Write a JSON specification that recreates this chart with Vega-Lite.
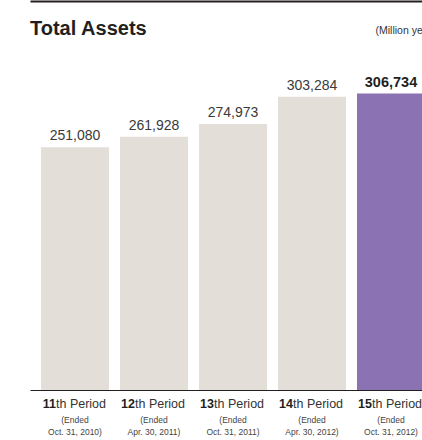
{
  "$schema": "https://vega.github.io/schema/vega-lite/v6.json",
  "width": 392,
  "height": 340,
  "autosize": {"type": "none"},
  "padding": {"left": 30, "top": 50, "right": 0, "bottom": 50},
  "background": "white",
  "config": {"view": {"stroke": null}, "font": "Liberation Sans"},
  "title": {"text": "Total Assets", "anchor": "start", "frame": "group", "fontSize": 20, "fontWeight": "bold", "color": "#231f20", "baseline": "alphabetic", "offset": -54, "font": "Liberation Sans"},
  "data": {"values": [
    {"period": "11th Period (Ended Oct. 31, 2010)", "assets": 251080, "latest": false},
    {"period": "12th Period (Ended Apr. 30, 2011)", "assets": 261928, "latest": false},
    {"period": "13th Period (Ended Oct. 31, 2011)", "assets": 274973, "latest": false},
    {"period": "14th Period (Ended Apr. 30, 2012)", "assets": 303284, "latest": false},
    {"period": "15th Period (Ended Oct. 31, 2012)", "assets": 306734, "latest": true}
  ]},
  "resolve": {"axis": {"x": "independent", "y": "independent"}},
  "layer": [
    {
      "transform": [{"filter": "!datum.latest"}],
      "mark": {"type": "bar", "fill": "#e3dfd8"},
      "encoding": {
        "x": {"field": "period", "type": "nominal",
          "scale": {"domain": ["11th Period (Ended Oct. 31, 2010)", "12th Period (Ended Apr. 30, 2011)", "13th Period (Ended Oct. 31, 2011)", "14th Period (Ended Apr. 30, 2012)", "15th Period (Ended Oct. 31, 2012)"], "range": [0, 406], "paddingInner": 0.139, "paddingOuter": 0.139},
          "axis": {"orient": "bottom", "title": null, "grid": false, "domain": true, "domainColor": "#231f20", "domainWidth": 1, "ticks": false, "tickSize": 0, "labelExpr": "substring(datum.label, 0, 2)", "labelAlign": "right", "labelOffset": -19, "labelPadding": 17, "labelBaseline": "alphabetic", "labelFontSize": 12.5, "labelFontWeight": "bold", "labelColor": "#231f20", "labelFont": "Liberation Sans", "labelAngle": 0}},
        "y": {"field": "assets", "type": "quantitative", "scale": {"domain": [0, 351600]},
          "axis": {"orient": "right", "domain": false, "ticks": false, "labels": false, "grid": false, "title": "(Million yen)", "titleAngle": 0, "titleAlign": "left", "titleBaseline": "alphabetic", "titleX": -47, "titleY": -17, "titleFontSize": 10.5, "titleFontWeight": "normal", "titleColor": "#333333", "titleFont": "Liberation Sans"}}
      }
    },
    {
      "transform": [{"filter": "datum.latest"}],
      "mark": {"type": "bar", "fill": "#8a72b3"},
      "encoding": {
        "x": {"field": "period", "type": "nominal",
          "scale": {"domain": ["11th Period (Ended Oct. 31, 2010)", "12th Period (Ended Apr. 30, 2011)", "13th Period (Ended Oct. 31, 2011)", "14th Period (Ended Apr. 30, 2012)", "15th Period (Ended Oct. 31, 2012)"], "range": [0, 406], "paddingInner": 0.139, "paddingOuter": 0.139},
          "axis": {"orient": "bottom", "title": null, "grid": false, "domain": false, "ticks": false, "tickSize": 0, "labelExpr": "substring(datum.label, 2, 11)", "labelAlign": "left", "labelOffset": -19, "labelPadding": 17, "labelBaseline": "alphabetic", "labelFontSize": 12.5, "labelFontWeight": "normal", "labelColor": "#333333", "labelFont": "Liberation Sans", "labelAngle": 0}},
        "y": {"field": "assets", "type": "quantitative", "scale": {"domain": [0, 351600]}, "axis": null}
      }
    },
    {
      "transform": [{"filter": "!datum.latest"}],
      "mark": {"type": "text", "baseline": "alphabetic", "align": "center", "dy": -7, "font": "Liberation Sans", "fontSize": 14, "fill": "#3a3a3a"},
      "encoding": {
        "x": {"field": "period", "type": "nominal",
          "scale": {"domain": ["11th Period (Ended Oct. 31, 2010)", "12th Period (Ended Apr. 30, 2011)", "13th Period (Ended Oct. 31, 2011)", "14th Period (Ended Apr. 30, 2012)", "15th Period (Ended Oct. 31, 2012)"], "range": [0, 406], "paddingInner": 0.139, "paddingOuter": 0.139},
          "axis": {"orient": "bottom", "title": null, "grid": false, "domain": false, "ticks": false, "tickSize": 0, "labelExpr": "[substring(datum.label, 12, 18), substring(datum.label, 19)]", "labelAlign": "center", "labelPadding": 32, "labelBaseline": "alphabetic", "labelLineHeight": 12, "labelFontSize": 8.5, "labelColor": "#444444", "labelFont": "Liberation Sans", "labelAngle": 0}},
        "y": {"field": "assets", "type": "quantitative", "scale": {"domain": [0, 351600]}, "axis": null},
        "text": {"field": "assets", "type": "quantitative", "format": ",d"}
      }
    },
    {
      "transform": [{"filter": "datum.latest"}],
      "mark": {"type": "text", "baseline": "alphabetic", "align": "center", "dy": -6, "font": "Liberation Sans", "fontSize": 14.5, "fontWeight": "bold", "fill": "#231f20"},
      "encoding": {
        "x": {"field": "period", "type": "nominal",
          "scale": {"domain": ["11th Period (Ended Oct. 31, 2010)", "12th Period (Ended Apr. 30, 2011)", "13th Period (Ended Oct. 31, 2011)", "14th Period (Ended Apr. 30, 2012)", "15th Period (Ended Oct. 31, 2012)"], "range": [0, 406], "paddingInner": 0.139, "paddingOuter": 0.139},
          "axis": {"orient": "top", "offset": 49, "title": null, "grid": false, "domain": true, "domainColor": "#231f20", "domainWidth": 2, "ticks": false, "labels": false}},
        "y": {"field": "assets", "type": "quantitative", "scale": {"domain": [0, 351600]}, "axis": null},
        "text": {"field": "assets", "type": "quantitative", "format": ",d"}
      }
    }
  ]
}
